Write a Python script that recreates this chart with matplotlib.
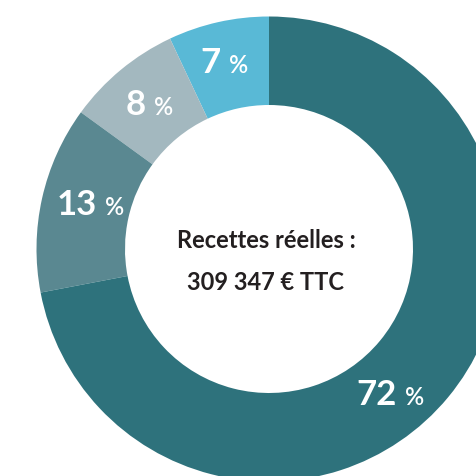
import numpy as np
import matplotlib
matplotlib.use('Agg')
import matplotlib.pyplot as plt

# slices, counter-clockwise from the top
values = [7, 8, 13, 72]
labels = ['7', '8', '13', '72']
colors = ['#59b9d6', '#a3b8bf', '#5a8891', '#2e727c']
center_lines = ['Recettes réelles :', '309 347 € TTC']

plt.rcParams['font.family'] = ['Lato', 'DejaVu Sans']

H = 477
fig = plt.figure(figsize=(4.77, 4.77), dpi=100)
ax = fig.add_axes([0, 0, 1, 1])

cx, cy = 269, H - 250
r_out, r_in = 232.5, 144

ax.pie(values, colors=colors, startangle=90, counterclock=True,
       center=(cx, cy), radius=r_out, frame=True,
       wedgeprops=dict(width=r_out - r_in, linewidth=0))
ax.set_xlim(0, H)
ax.set_ylim(0, H)
ax.set_aspect('equal')
ax.axis('off')

# nudges (px, right / down) from the wedge mid-point to the label baseline
nudge = {'7': (-7, 6.5), '8': (-3, 10), '13': (11.5, 6), '72': (-17, 35)}
cum = np.cumsum([0] + values[:-1])
r_lab = (r_out + r_in) / 2
for v, c, lab in zip(values, cum, labels):
    ang = 90 + (c + v / 2) / 100 * 360
    x = cx + r_lab * np.cos(np.radians(ang)) + nudge[lab][0]
    y = cy + r_lab * np.sin(np.radians(ang)) - nudge[lab][1]
    ax.text(x, y, lab, color='white', fontsize=25, fontweight='bold',
            ha='right', va='baseline')
    ax.text(x + 8, y, '%', color='white', fontsize=17, fontweight='semibold',
            ha='left', va='baseline')

ax.text(266, H - 248, center_lines[0], color='#231f20', fontsize=17,
        fontweight='bold', ha='center', va='baseline')
ax.text(266, H - 290, center_lines[1], color='#231f20', fontsize=17,
        fontweight='bold', ha='center', va='baseline')

fig.savefig('out.png', dpi=100)
